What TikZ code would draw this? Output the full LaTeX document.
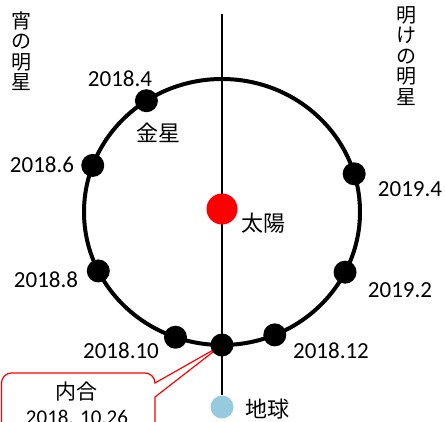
\documentclass[tikz,border=0pt]{standalone}
\usepackage{fontspec}
\setmainfont{Carlito}
\newfontfamily\jp{Noto Sans CJK JP}
\usetikzlibrary{backgrounds}
\definecolor{jordbla}{RGB}{150,202,220}
\tikzset{
  bana/.style={line width=4pt},
  planet/.style={circle,fill=black,minimum size=23pt,inner sep=0pt},
  datum/.style={inner sep=0pt,font=\fontsize{23}{26}\selectfont},
  namn/.style={inner sep=0pt,font=\jp\fontsize{22}{24}\selectfont},
  lodrat/.style={inner sep=0pt,align=center,font=\jp\fontsize{20}{20.5}\selectfont},
  bubbla/.style={red,line width=1.2pt},
}

\begin{document}
\begin{tikzpicture}[x=1pt,y=-1pt]
      \useasboundingbox (0,0) rectangle (445,421);
      \clip (0,0) rectangle (445,421);
      % Linje genom solen till jorden
      \coordinate (topp) at (222,14);
      \node[circle,fill=jordbla,minimum size=23pt,inner sep=0pt] (jord) at (222,407) {};
      \draw[line width=1.3pt] (topp) -- (jord);
      % Venus bana
      \draw[bana] (222,212) ellipse [x radius=138, y radius=133];
      % Solen
      \node[circle,fill=red,minimum size=31pt,inner sep=0pt] (sol) at (222,209) {};
      % Venus positioner
      \foreach \n/\t in {a/123.2,b/159.5,c/206.3,d/250.3,e/270,f/292.5,g/333.1,h/16.7}
        \node[planet] (v\n) at ({222+138*cos(\t)},{212-133*sin(\t)}) {};
      % Datum
      \foreach \n/\x/\y/\txt in {a/120/79/2018.4,b/42/165/2018.6,c/46/280/2018.8,
          d/121/351/2018.10,f/331/351/2018.12,g/400/290/2019.2,h/410/189/2019.4}
        \node[datum] (d\n) at (\x,\y) {\txt};
      % Namn
      \node[namn] (venus) at (158,133) {金星};
      \node[namn] (soltext) at (263,223) {太陽};
      \node[namn] (jordtext) at (267,409) {地球};
      \node[lodrat] (kvall) at (21,51) {宵\\の\\明\\星};
      \node[lodrat] (morgon) at (406,56) {明\\け\\の\\明\\星};
      % Inre konjunktion
      \begin{pgfonlayer}{background}
        \draw[bubbla] (155,397) -- (ve.center) -- (155,383)
          [rounded corners=10pt] -- (155,373) -- (1.5,373) -- (1.5,440)
          [sharp corners] -- (155,440) -- cycle;
      \end{pgfonlayer}
      \node[align=center,inner sep=0pt,font=\fontsize{21}{25}\selectfont] (konj) at (77,403) {{\jp 内合}\\2018. 10.26};
    \end{tikzpicture}
\end{document}
